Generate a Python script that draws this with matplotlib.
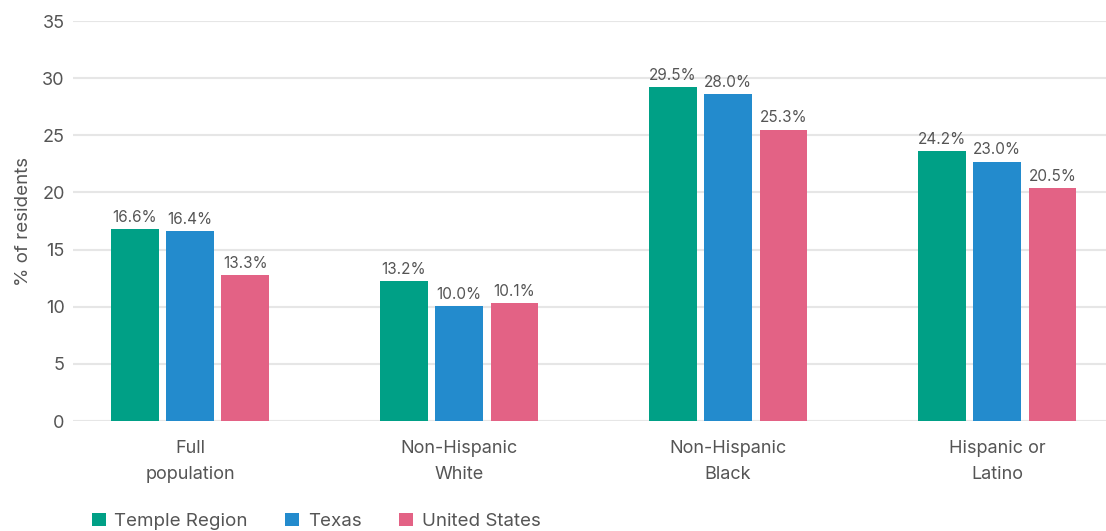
import matplotlib
matplotlib.use("Agg")
import matplotlib.pyplot as plt
import numpy as np

categories = ["Full\npopulation", "Non-Hispanic\nWhite", "Non-Hispanic\nBlack", "Hispanic or\nLatino"]
series = ["Temple Region", "Texas", "United States"]
temple = [16.8, 12.25, 29.2, 23.6]
texas = [16.6, 10.05, 28.6, 22.7]
us = [12.8, 10.3, 25.5, 20.4]
temple_lbl = ["16.6%", "13.2%", "29.5%", "24.2%"]
texas_lbl = ["16.4%", "10.0%", "28.0%", "23.0%"]
us_lbl = ["13.3%", "10.1%", "25.3%", "20.5%"]
yticks = [0, 5, 10, 15, 20, 25, 30, 35]

colors = ["#00A086", "#238BCD", "#E36285"]
txt = "#555555"
plt.rcParams['font.family'] = ['Inter', 'DejaVu Sans']

fig = plt.figure(figsize=(11.06, 5.31), dpi=100)
ax = fig.add_axes([73/1106, 1-421/531, 1-73/1106, (421-21)/531])

x = np.arange(len(categories))
w = 0.178
step = 0.206
for i, (vals, lbls, name) in enumerate(zip([temple, texas, us], [temple_lbl, texas_lbl, us_lbl], series)):
    pos = x + (i-1)*step
    ax.bar(pos, vals, width=w, color=colors[i], label=name, zorder=3)
    for p, v, l in zip(pos, vals, lbls):
        ax.annotate(l, (p, v), xytext=(0, 3), textcoords="offset points",
                    ha="center", va="bottom", fontsize=11, color=txt)

ax.set_ylim(0, 35)
ax.set_xlim(-0.435, 3.405)
ax.set_yticks(yticks)
ax.set_xticks(x)
ax.set_xticklabels(categories, fontsize=13, color=txt, linespacing=1.65)
ax.tick_params(axis='y', labelsize=13, colors=txt, length=0, pad=6)
ax.tick_params(axis='x', length=0, pad=14)
ax.grid(axis='y', color="#e6e6e6", linewidth=1.5, zorder=0)
for s in ax.spines.values():
    s.set_visible(False)
ax.set_ylabel("% of residents", fontsize=13.5, color=txt, labelpad=7)

leg = fig.legend(loc="lower left", bbox_to_anchor=(75/1106, -0.03), ncol=3, frameon=False,
                 fontsize=13.5, handlelength=0.75, handleheight=0.75, handletextpad=0.45,
                 columnspacing=2.0, labelcolor=txt)

fig.savefig("out.png", dpi=100)
